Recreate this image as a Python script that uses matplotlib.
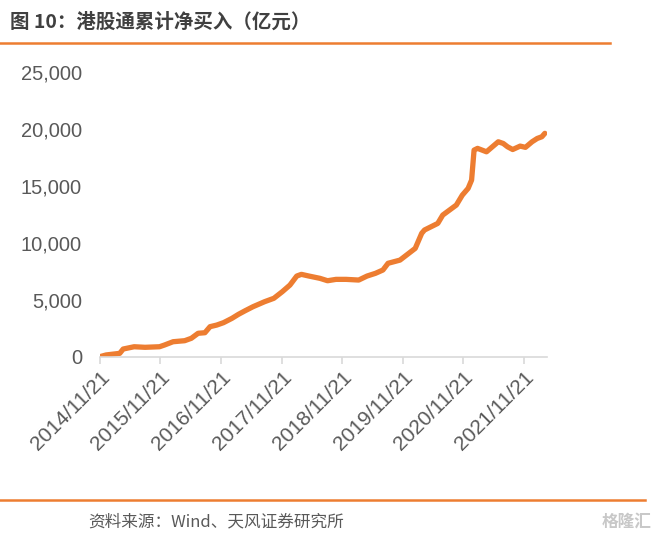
import matplotlib.pyplot as plt
import pandas as pd

# 港股通累计净买入（亿元）
dates = ["2014-11-21", "2014-12-28", "2015-03-20", "2015-04-10", "2015-06-15",
         "2015-08-20", "2015-11-15", "2015-12-15", "2016-02-05", "2016-04-15",
         "2016-05-25", "2016-07-05", "2016-08-15", "2016-09-15", "2016-10-25",
         "2016-12-05", "2017-01-25", "2017-03-05", "2017-04-15", "2017-06-01",
         "2017-08-10", "2017-10-05", "2017-11-25", "2018-01-10", "2018-02-20",
         "2018-03-20", "2018-05-05", "2018-07-10", "2018-08-25", "2018-10-15",
         "2018-12-15", "2019-03-01", "2019-04-20", "2019-06-10", "2019-07-25",
         "2019-08-25", "2019-11-05", "2020-02-05", "2020-03-15", "2020-04-01",
         "2020-06-20", "2020-07-20", "2020-10-10", "2020-11-15", "2020-12-20",
         "2021-01-10", "2021-01-25", "2021-02-15", "2021-04-10", "2021-06-20",
         "2021-07-20", "2021-08-15", "2021-09-15", "2021-10-30", "2021-12-01",
         "2022-01-10", "2022-02-10", "2022-03-10", "2022-03-28"]
values = [30, 180, 320, 700, 900,
          850, 900, 1050, 1340, 1430,
          1640, 2080, 2130, 2660, 2800,
          3010, 3390, 3740, 4060, 4410,
          4850, 5150, 5730, 6310, 7100,
          7250, 7100, 6900, 6690, 6810,
          6810, 6750, 7100, 7340, 7630,
          8220, 8500, 9530, 10850, 11140,
          11720, 12450, 13330, 14200, 14790,
          15520, 18150, 18300, 18000, 18880,
          18730, 18440, 18200, 18500, 18390,
          18880, 19170, 19320, 19620]

tick_dates = ["2014-11-21", "2015-11-21", "2016-11-21", "2017-11-21",
              "2018-11-21", "2019-11-21", "2020-11-21", "2021-11-21"]
tick_labels = ["2014/11/21", "2015/11/21", "2016/11/21", "2017/11/21",
               "2018/11/21", "2019/11/21", "2020/11/21", "2021/11/21"]
y_ticks = [0, 5000, 10000, 15000, 20000, 25000]

title = "图 10：港股通累计净买入（亿元）"
source = "资料来源：Wind、天风证券研究所"

orange = "#ED7D31"
grey_text = "#595959"

plt.rcParams['font.family'] = ['Liberation Sans', 'Noto Sans CJK SC', 'DejaVu Sans']

x = pd.to_datetime(dates)
xt = pd.to_datetime(tick_dates)

fig = plt.figure(figsize=(6.57, 5.40), dpi=100)
ax = fig.add_axes([100/657, 1 - 357/540, 447/657, 285/540])

ax.plot(x, values, color=orange, linewidth=3.8, solid_capstyle='round', solid_joinstyle='round')

ax.set_ylim(0, 25000)
ax.set_yticks(y_ticks)
ax.set_yticklabels([f"{v:,}" for v in y_ticks])
ax.set_xlim(pd.Timestamp("2014-11-21"), pd.Timestamp("2022-04-10"))
ax.set_xticks(xt)
ax.set_xticklabels(tick_labels, rotation=45, ha='right', rotation_mode='anchor')

for s in ['top', 'right', 'left']:
    ax.spines[s].set_visible(False)
ax.spines['bottom'].set_color('#D9D9D9')
ax.spines['bottom'].set_linewidth(1.2)
ax.tick_params(axis='y', length=0, labelsize=14.5, labelcolor=grey_text, pad=13)
ax.tick_params(axis='x', length=5, width=1.2, color='#D9D9D9',
               labelsize=15, labelcolor=grey_text, pad=3)

# 标题与分隔线
fig.text(10/657, 1 - 22/540, title, fontsize=14, fontweight='bold', color='#404040',
         va='center', ha='left', family=['Noto Sans CJK SC', 'DejaVu Sans'])
fig.add_artist(plt.Line2D([0, 610/657], [1 - 43/540, 1 - 43/540], color=orange, linewidth=1.8))
fig.add_artist(plt.Line2D([0, 645/657], [1 - 500/540, 1 - 500/540], color=orange, linewidth=1.8))
fig.text(88/657, 1 - 522/540, source, fontsize=12, color=grey_text,
         va='center', ha='left', family=['Noto Sans CJK SC', 'DejaVu Sans'])
fig.text(652/657, 1 - 522/540, "格隆汇", fontsize=12, color='#C8C8C8', fontweight='bold',
         va='center', ha='right', family=['Noto Sans CJK SC', 'DejaVu Sans'])

fig.savefig("out.png", dpi=100)
